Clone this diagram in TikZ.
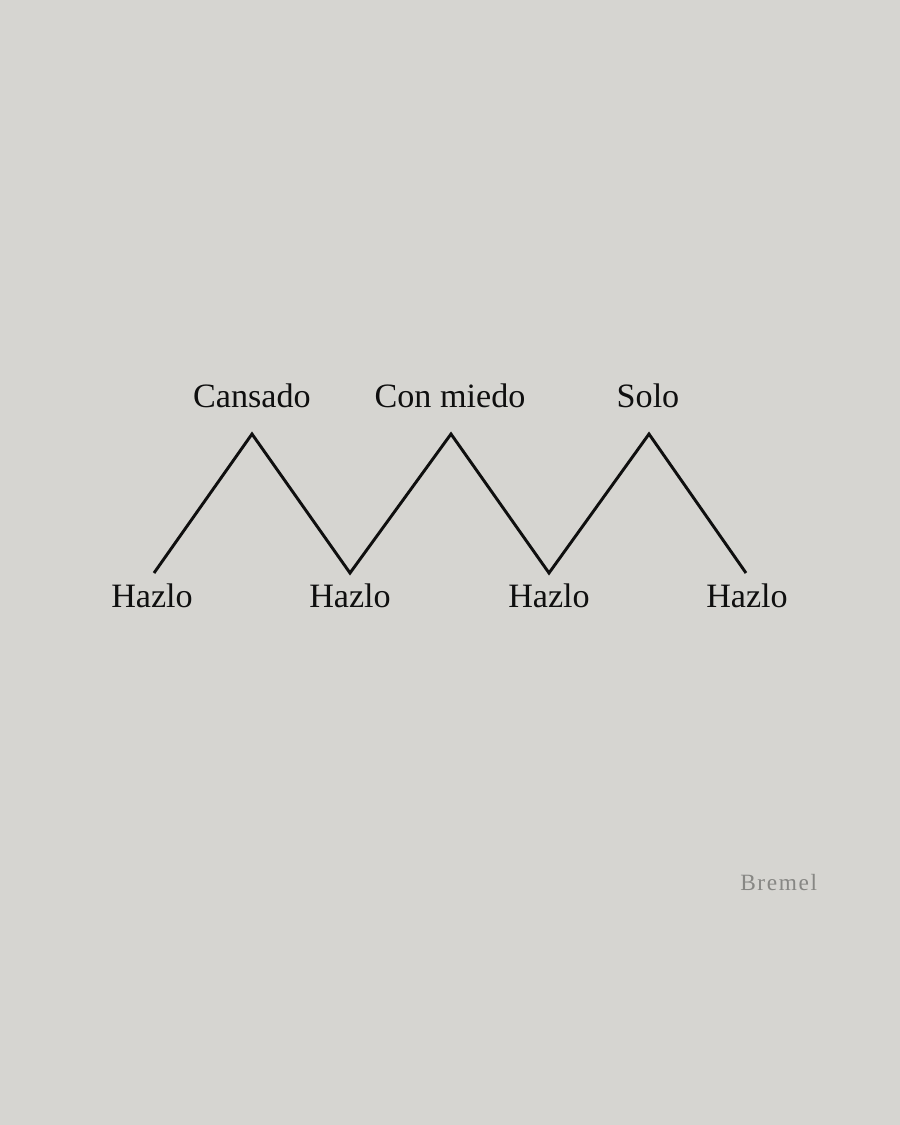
\documentclass[tikz,border=0pt]{standalone}
\usepackage{fontspec}
\setmainfont{Liberation Serif}
\definecolor{paper}{RGB}{214,213,209}
\definecolor{ink}{RGB}{15,15,15}
\definecolor{sign}{RGB}{135,135,132}
\begin{document}
\begin{tikzpicture}[x=0.75pt,y=-0.75pt,
  lbl/.style={anchor=base,inner sep=0pt,text=ink,font=\fontsize{25.6}{30}\selectfont},
  zig/.style={draw=ink,line width=2.2pt,line join=miter,line cap=butt}]
\fill[paper] (0,0) rectangle (900,1125);
\useasboundingbox (0,0) rectangle (900,1125);
\coordinate (b1) at (154,573);
\coordinate (p1) at (252,434);
\coordinate (b2) at (350,573);
\coordinate (p2) at (451,434);
\coordinate (b3) at (549,573);
\coordinate (p3) at (649,434);
\coordinate (b4) at (746,573);
\draw[zig] (b1) -- (p1) -- (b2) -- (p2) -- (b3) -- (p3) -- (b4);
\node[lbl] (t1) at (252,407) {Cansado};
\node[lbl] (t2) at (450,407) {Con miedo};
\node[lbl] (t3) at (648,407) {Solo};
\node[lbl] (h1) at (152,607) {Hazlo};
\node[lbl] (h2) at (350,607) {Hazlo};
\node[lbl] (h3) at (549,607) {Hazlo};
\node[lbl] (h4) at (747,607) {Hazlo};
\node[anchor=base west,inner sep=0pt,text=sign,font=\addfontfeatures{LetterSpace=7}\fontsize{17.5}{20}\selectfont] (sg) at (740,890) {Bremel};
\end{tikzpicture}
\end{document}
